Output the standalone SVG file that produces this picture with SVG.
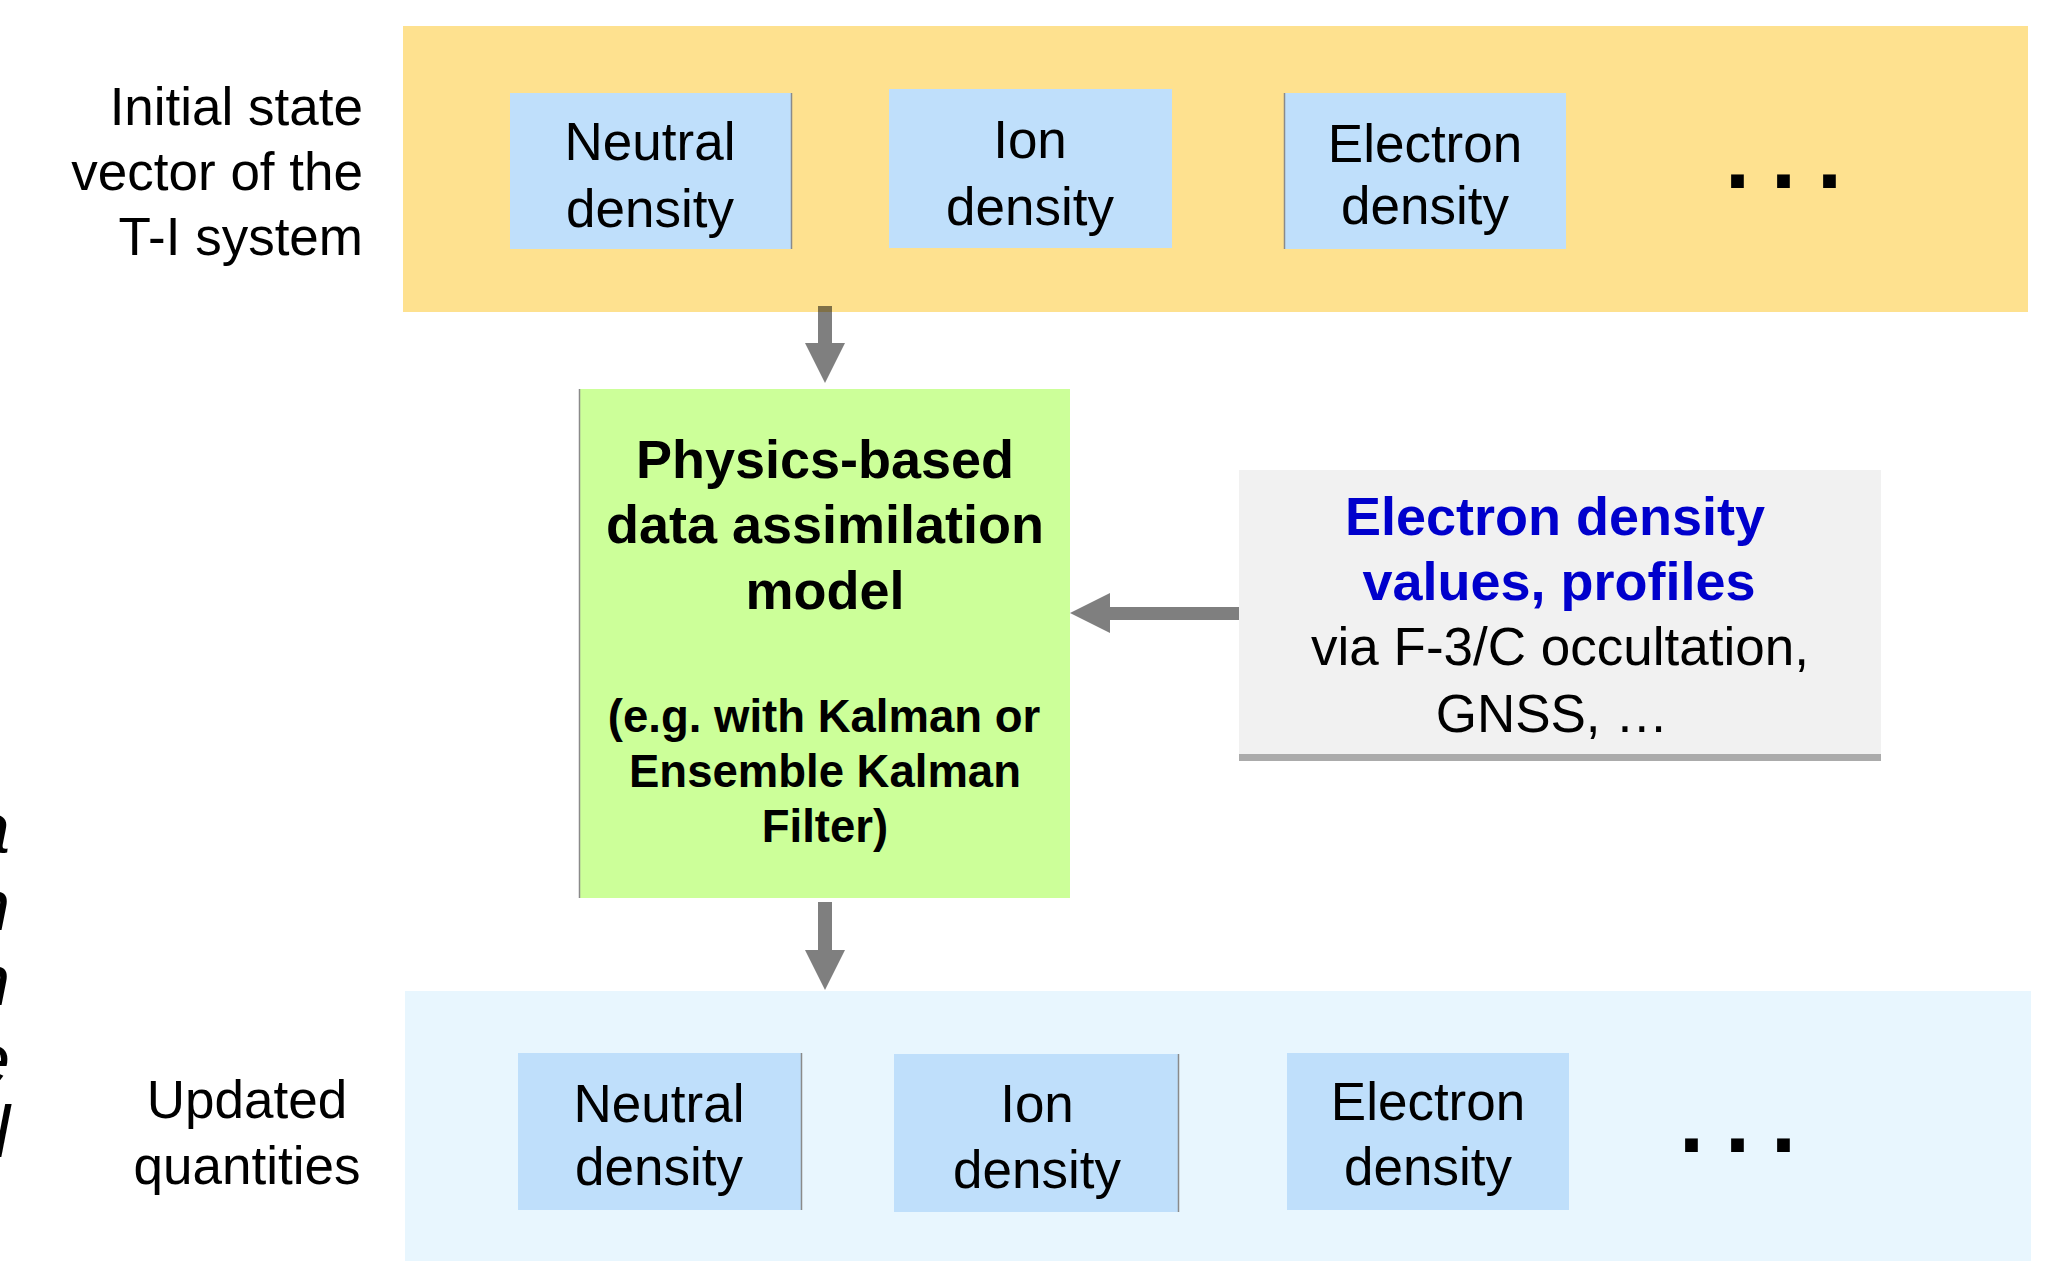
<svg xmlns="http://www.w3.org/2000/svg" width="2058" height="1261" viewBox="0 0 2058 1261">
  <style>
    .lbl { font-family: "Liberation Sans", Arial, sans-serif; font-size: 53px; fill: #000; text-anchor: middle; }
    .side { font-family: "Liberation Sans", Arial, sans-serif; font-size: 53px; fill: #000; }
    .bold { font-family: "Liberation Sans", Arial, sans-serif; font-weight: bold; fill: #000; text-anchor: middle; }
    .blue { fill: #0000CC; }
    .dots { font-family: "Liberation Sans", Arial, sans-serif; font-weight: bold; font-size: 90px; letter-spacing: 21px; fill: #000; }
    .frag { font-family: "Liberation Sans", Arial, sans-serif; font-style: italic; font-size: 73px; fill: #000; text-anchor: end; }
    .qty { fill: #BFDFFB; }
    .edge { stroke: #8A8A8A; stroke-width: 1.5; }
    .arrow { fill: #000; fill-opacity: 0.5; }
  </style>

  <rect x="0" y="0" width="2058" height="1261" fill="#FFFFFF"/>

  <!-- clipped line endings of a neighbouring caption at the left margin -->
  <g id="margin-fragments">
    <text class="frag" x="10" y="853">a</text>
    <text class="frag" x="10" y="930">n</text>
    <text class="frag" x="10" y="1005">n</text>
    <text class="frag" x="10" y="1084">e</text>
    <text class="frag" x="10" y="1157">l</text>
  </g>

  <!-- initial state vector band -->
  <g id="initial-state">
    <rect x="403" y="26" width="1625" height="286" fill="#FEE18F"/>
    <text class="side" x="363" y="125" text-anchor="end">Initial state</text>
    <text class="side" x="363" y="190" text-anchor="end" font-size="54">vector of the</text>
    <text class="side" x="363" y="255" text-anchor="end">T-I system</text>
  </g>

  <g id="init-neutral">
    <rect class="qty" x="510" y="93" width="282" height="156"/>
    <line class="edge" x1="791.5" y1="93" x2="791.5" y2="249"/>
    <text class="lbl" x="650" y="160">Neutral</text>
    <text class="lbl" x="650" y="227">density</text>
  </g>
  <g id="init-ion">
    <rect class="qty" x="889" y="89" width="283" height="159"/>
    <text class="lbl" x="1030" y="158">Ion</text>
    <text class="lbl" x="1030" y="225">density</text>
  </g>
  <g id="init-electron">
    <rect class="qty" x="1284" y="93" width="282" height="156"/>
    <line class="edge" x1="1284.5" y1="93" x2="1284.5" y2="249"/>
    <text class="lbl" x="1425" y="162">Electron</text>
    <text class="lbl" x="1425" y="224">density</text>
  </g>
  <g id="init-more">
    <text class="dots" x="1725" y="188">...</text>
  </g>

  <!-- assimilation model -->
  <g id="da-model">
    <rect x="579" y="389" width="491" height="509" fill="#CCFF99"/>
    <line class="edge" x1="579.5" y1="389" x2="579.5" y2="898"/>
    <text class="bold" x="825" y="478" font-size="54">Physics-based</text>
    <text class="bold" x="825" y="543" font-size="54">data assimilation</text>
    <text class="bold" x="825" y="609" font-size="54">model</text>
    <text class="bold" x="824" y="732" font-size="45.5">(e.g. with Kalman or</text>
    <text class="bold" x="825" y="787" font-size="45.5">Ensemble Kalman</text>
    <text class="bold" x="825" y="842" font-size="45.5">Filter)</text>
  </g>

  <!-- observations -->
  <g id="observations">
    <rect x="1239" y="470" width="642" height="285" fill="#F1F1F1"/>
    <rect x="1239" y="754" width="642" height="7" fill="#ABABAB"/>
    <text class="bold blue" x="1555" y="535" font-size="54">Electron density</text>
    <text class="bold blue" x="1559" y="600" font-size="54">values, profiles</text>
    <text class="lbl" x="1560" y="665" font-size="55">via F-3/C occultation,</text>
    <text class="lbl" x="1552" y="732" font-size="55">GNSS, …</text>
  </g>

  <!-- updated quantities band -->
  <g id="updated">
    <rect x="405" y="991" width="1626" height="270" fill="#E8F6FE"/>
    <text class="lbl" x="247" y="1118">Updated</text>
    <text class="lbl" x="247" y="1184">quantities</text>
  </g>

  <g id="upd-neutral">
    <rect class="qty" x="518" y="1053" width="284" height="157"/>
    <line class="edge" x1="801.5" y1="1053" x2="801.5" y2="1210"/>
    <text class="lbl" x="659" y="1122">Neutral</text>
    <text class="lbl" x="659" y="1185">density</text>
  </g>
  <g id="upd-ion">
    <rect class="qty" x="894" y="1054" width="285" height="158"/>
    <line class="edge" x1="1178.5" y1="1054" x2="1178.5" y2="1212"/>
    <text class="lbl" x="1037" y="1122">Ion</text>
    <text class="lbl" x="1037" y="1188">density</text>
  </g>
  <g id="upd-electron">
    <rect class="qty" x="1287" y="1053" width="282" height="157"/>
    <text class="lbl" x="1428" y="1120">Electron</text>
    <text class="lbl" x="1428" y="1185">density</text>
  </g>
  <g id="upd-more">
    <text class="dots" x="1679" y="1152">...</text>
  </g>

  <!-- block arrows -->
  <g id="connectors">
    <path class="arrow" d="M818,306 H832 V343 H845 L825,383 L805,343 H818 Z"/>
    <path class="arrow" d="M818,902 H832 V950 H845 L825,990 L805,950 H818 Z"/>
    <path class="arrow" d="M1239,607 V620 H1110 V633 L1070,613 L1110,593 V607 Z"/>
  </g>
</svg>
